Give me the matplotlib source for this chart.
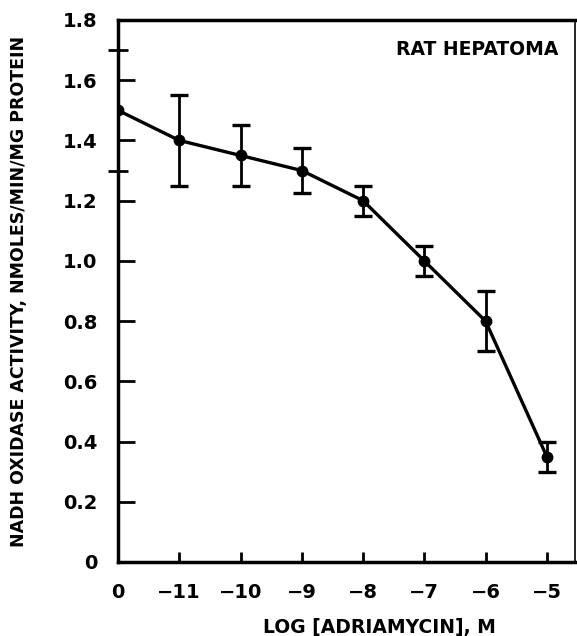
import matplotlib.pyplot as plt
from matplotlib.ticker import FixedLocator

# NADH oxidase activity vs adriamycin concentration
x_labels = ['0', '\u221211', '\u221210', '\u22129', '\u22128', '\u22127', '\u22126', '\u22125']
activity = [1.5, 1.4, 1.35, 1.3, 1.2, 1.0, 0.8, 0.35]
err = [0.0, 0.15, 0.1, 0.075, 0.05, 0.05, 0.1, 0.05]

plt.rcParams['font.family'] = ['DejaVu Sans']
plt.rcParams['font.weight'] = 'bold'

fig = plt.figure(figsize=(5.77, 6.36), dpi=100)
ax = fig.add_axes([0.2045, 0.1164, 0.792, 0.8522])

xs = list(range(len(activity)))
ax.plot(xs, activity, color='black', lw=2.4, marker='o', ms=7.5, zorder=3)
ax.errorbar(xs[1:], activity[1:], yerr=err[1:], fmt='none', ecolor='black',
            elinewidth=2.0, capsize=6.5, capthick=2.4, zorder=2)

ax.set_xlim(0, 7.46)
ax.set_ylim(0, 1.8)
ax.set_xticks(xs)
ax.set_xticklabels(x_labels)
ax.set_yticks([0, 0.2, 0.4, 0.6, 0.8, 1.0, 1.2, 1.4, 1.6, 1.8])
ax.set_yticklabels(['0', '0.2', '0.4', '0.6', '0.8', '1.0', '1.2', '1.4', '1.6', '1.8'])
ax.yaxis.set_minor_locator(FixedLocator([1.3, 1.7]))

ax.tick_params(axis='both', which='major', direction='in', width=2, labelsize=14)
ax.tick_params(axis='y', which='minor', direction='inout', length=14, width=2)
ax.tick_params(axis='x', which='major', length=7, pad=15)
ax.tick_params(axis='y', which='major', length=12, pad=15)
for lab in ax.get_xticklabels() + ax.get_yticklabels():
    lab.set_fontweight('bold')

for side in ['left', 'bottom', 'top']:
    ax.spines[side].set_linewidth(2.5)
ax.spines['right'].set_linewidth(1.2)

ax.text(0.963, 0.945, 'RAT HEPATOMA', transform=ax.transAxes, ha='right',
        va='center', fontsize=13.5, fontweight='bold')

ax.set_xlabel('LOG [ADRIAMYCIN], M', fontsize=13.5, fontweight='bold')
ax.xaxis.set_label_coords(0.573, -0.103)
ax.set_ylabel('NADH OXIDASE ACTIVITY, NMOLES/MIN/MG PROTEIN', fontsize=12.5,
              fontweight='bold')
ax.yaxis.set_label_coords(-0.197, 0.5)

fig.savefig('out.png', dpi=100)
